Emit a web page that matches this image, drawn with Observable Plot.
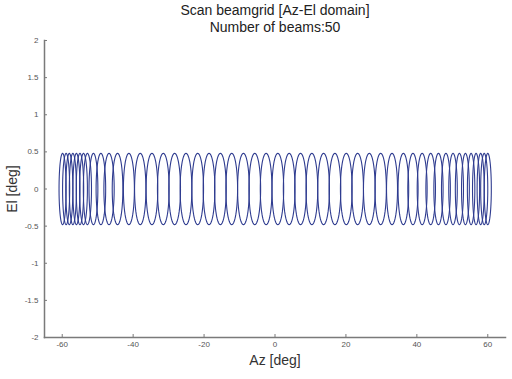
<!DOCTYPE html>
<html>
<head>
<meta charset="utf-8">
<script src="https://cdn.jsdelivr.net/npm/d3@7"></script>
<script src="https://cdn.jsdelivr.net/npm/@observablehq/plot@0.6"></script>
<style>
  body { margin: 0; background: #fff; font-family: "Liberation Sans", Arial, sans-serif; }
  #title { width: 512px; box-sizing: border-box; padding-left: 38px; text-align: center; font-size: 14px; line-height: 17px; color: #222; height: 34px; padding-top: 2px; }
</style>
</head>
<body>
<div id="title">Scan beamgrid [Az-El domain]<br>Number of beams:50</div>
<div id="chart"></div>
<script>
// Beam centres (Az, deg), left to right
const beamAz = [
  -59.9, -58.9, -58.0, -57.0, -56.0, -55.0, -54.0, -52.9, -51.2, -49.1,
  -46.8, -44.4,
  -41.2, -38.0, -34.7, -31.5, -28.3, -25.1, -21.8, -18.6, -15.4, -12.2,
  -8.9, -5.7, -2.5, 0.8, 4.0, 7.2, 10.4, 13.7, 16.9, 20.1,
  23.3, 26.6, 29.8, 33.0,
  36.2, 38.9, 41.5, 43.9, 46.1, 48.2, 50.2, 52.0, 53.7, 55.3,
  56.7, 58.0, 59.0, 60.0
];
// Beam half-widths in Az (deg)
const beamHalfWidth = [
  1.0, 1.0, 1.0, 1.0, 1.0, 1.05, 1.1, 1.15, 1.25, 1.35,
  1.45, 1.5,
  1.55, 1.6, 1.65, 1.65, 1.65, 1.65, 1.65, 1.65, 1.65, 1.65,
  1.65, 1.65, 1.65, 1.65, 1.65, 1.65, 1.65, 1.65, 1.65, 1.65,
  1.65, 1.65, 1.6, 1.55,
  1.5, 1.45, 1.4, 1.35, 1.3, 1.25, 1.2, 1.15, 1.1, 1.05,
  1.0, 1.0, 1.0, 1.0
];
// Beam half-height in El (deg)
const beamHalfHeight = [0.48];
const xTicks = [-60, -40, -20, 0, 20, 40, 60];
const yTicks = [-2, -1.5, -1, -0.5, 0, 0.5, 1, 1.5, 2];

// Outline of each beam as an ellipse path
const outline = [];
beamAz.forEach((az, i) => {
  for (let j = 0; j <= 72; j++) {
    const t = (j / 72) * 2 * Math.PI;
    outline.push({beam: i, az: az + beamHalfWidth[i] * Math.cos(t), el: beamHalfHeight[0] * Math.sin(t)});
  }
});

const W = 512, H = 345;
const mL = 44, mR = 7, mT = 6, mB = 42;
const pw = W - mL - mR, ph = H - mT - mB;
const axisColor = "#7a7a7a";

const chart = Plot.plot({
  width: W, height: H,
  marginLeft: mL, marginRight: mR, marginTop: mT, marginBottom: mB,
  style: {fontFamily: "Liberation Sans, Arial, sans-serif", background: "#fff"},
  x: {domain: [-65, 65]},
  y: {domain: [-2, 2]},
  marks: [
    Plot.line(outline, {x: "az", y: "el", z: "beam", stroke: "#2f3c90", strokeWidth: 1.1, curve: "linear"}),
    Plot.ruleX(xTicks, {x: d => d, stroke: axisColor, insetTop: ph - 3}),
    Plot.ruleY(yTicks, {y: d => d, stroke: axisColor, insetRight: pw - 3}),
    Plot.axisX(xTicks, {tickSize: 0, tickPadding: 4, fontSize: 8, fill: "#555", tickFormat: d => String(d),
      label: "Az [deg]", labelAnchor: "center", labelArrow: "none", labelOffset: 27}),
    Plot.axisY(yTicks, {tickSize: 0, tickPadding: 6, fontSize: 8, fill: "#555", tickFormat: d => String(d),
      label: "El [deg]", labelAnchor: "center", labelArrow: "none", labelOffset: 37}),
    Plot.frame({anchor: "left", stroke: axisColor, strokeWidth: 1.5}),
    Plot.frame({anchor: "bottom", stroke: axisColor, strokeWidth: 1.5})
  ]
});
document.getElementById("chart").appendChild(chart);
// axis label sizes
chart.querySelectorAll("[aria-label$='axis label'] text").forEach(t => { t.style.fontSize = "14px"; t.style.fill = "#333"; });
</script>
</body>
</html>
